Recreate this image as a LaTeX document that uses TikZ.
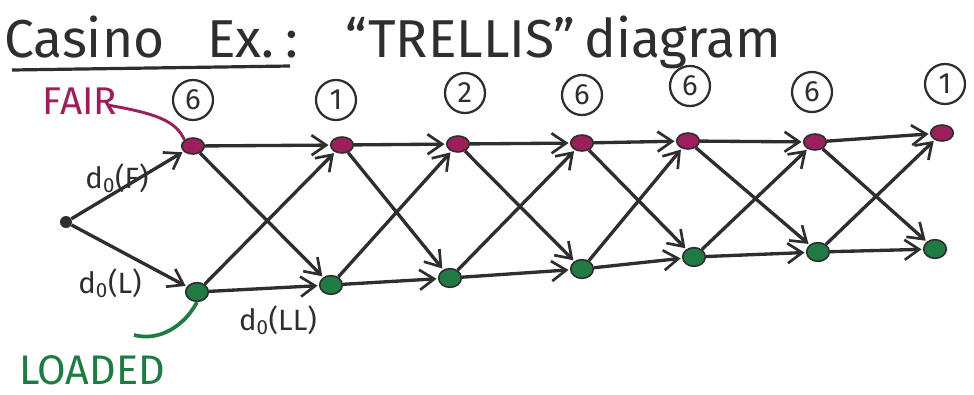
\documentclass[tikz,border=0pt]{standalone}
\usepackage{fontspec}
\setmainfont{Fira Sans}
\usetikzlibrary{arrows.meta,shapes.geometric}
\definecolor{ink}{HTML}{2E2E2E}
\definecolor{fairc}{HTML}{9C1F5C}
\definecolor{loadc}{HTML}{1F7A43}
\tikzset{
  fairst/.style={ellipse, draw=ink, line width=1.2pt, fill=fairc, minimum width=17pt, minimum height=12pt, inner sep=0pt},
  loadst/.style={ellipse, draw=ink, line width=1.2pt, fill=loadc, minimum width=17pt, minimum height=14pt, inner sep=0pt},
  startst/.style={circle, fill=ink, minimum size=9pt, inner sep=0pt},
  obs/.style={circle, draw=ink, line width=1.7pt, minimum size=30pt, inner sep=0pt, font=\fontsize{22}{22}\selectfont, text=ink},
  edge/.style={draw=ink, line width=2.5pt, -{Straight Barb[length=11pt, width=15pt, line width=2pt]}, shorten >=1pt},
  lbl/.style={font=\fontsize{22}{22}\selectfont, text=ink, inner sep=0pt},
}
\begin{document}
\begin{tikzpicture}[x=0.75pt,y=-0.75pt]
\useasboundingbox (0,0) rectangle (974,394);
% title
\node[anchor=west, text=ink, inner sep=0pt, font=\fontsize{40}{40}\selectfont] (title) at (4,42) {Casino\hspace{32pt}Ex.\hspace{8pt}:\hspace{36pt}“TRELLIS”\,diagram};
\coordinate (ul1) at (12,70);
\coordinate (ul2) at (290,66);
\draw[ink, line width=2.4pt] (ul1) -- (ul2);
% nodes
\node[startst] (s) at (66,222) {};
\node[fairst] (t1) at (193,146) {};
\node[fairst] (t2) at (342,145) {};
\node[fairst] (t3) at (458,144) {};
\node[fairst] (t4) at (582,143) {};
\node[fairst] (t5) at (688,141) {};
\node[fairst] (t6) at (815,142) {};
\node[fairst] (t7) at (942,133) {};
\node[loadst] (b1) at (197,292) {};
\node[loadst] (b2) at (331,285) {};
\node[loadst] (b3) at (450,278) {};
\node[loadst] (b4) at (582,269) {};
\node[loadst] (b5) at (694,257) {};
\node[loadst] (b6) at (818,252) {};
\node[loadst] (b7) at (935,249) {};
% observations
\node[obs] (o1) at (193,100) {6};
\node[obs] (o2) at (336,100) {1};
\node[obs] (o3) at (465,93) {2};
\node[obs] (o4) at (582,95) {6};
\node[obs] (o5) at (690,86) {6};
\node[obs] (o6) at (812,92) {6};
\node[obs] (o7) at (945,84) {1};
% edges
\draw[edge] (s) -- (t1);
\draw[edge] (s) -- (b1);
\foreach \a/\b in {1/2,2/3,3/4,4/5,5/6,6/7}{
  \draw[edge] (t\a) -- (t\b);
  \draw[edge] (t\a) -- (b\b);
  \draw[edge] (b\a) -- (t\b);
  \draw[edge] (b\a) -- (b\b);
}
% labels
\node[text=fairc, font=\fontsize{29}{29}\selectfont, inner sep=0pt] (fair) at (80,101) {FAIR};
\draw[fairc, line width=2.2pt] (fair.east) ++(-10,4) .. controls (160,114) and (176,122) .. (t1.north west);
\node[text=loadc, font=\fontsize{31}{31}\selectfont, inner sep=0pt] (loaded) at (92,370) {LOADED};
\coordinate (lc) at (134,335);
\draw[loadc, line width=2.8pt] (lc) .. controls (160,342) and (185,325) .. (b1.south);
\node[lbl] (d0f) at (117,178) {d\textsubscript{0}(F)};
\node[lbl] (d0l) at (110,283) {d\textsubscript{0}(L)};
\node[lbl] (d0ll) at (278,320) {d\textsubscript{0}(LL)};
\end{tikzpicture}
\end{document}
